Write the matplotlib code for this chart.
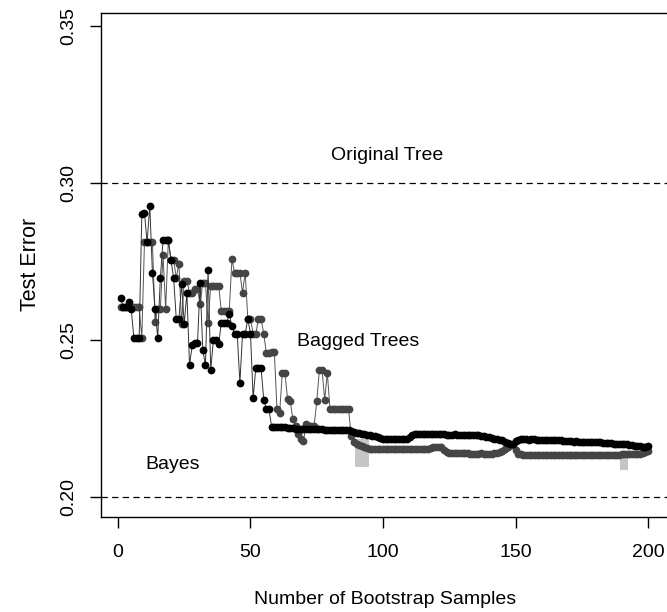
import matplotlib
matplotlib.use("Agg")
import matplotlib.pyplot as plt
import numpy as np

plt.rcParams['font.family'] = ['Liberation Sans', 'DejaVu Sans']

# Test error of bagged trees versus number of bootstrap samples
n_boot = np.arange(1, 201)

# consensus vote
consensus_err = [
    .2635, .2604, .2604, .2620, .2598, .2507, .2507, .2507,
    .2900, .2905, .2811, .2927, .2714, .2600, .2507, .2698,
    .2817, .2817, .2817, .2755, .2698, .2567, .2567, .2677,
    .2551, .2651, .2420, .2483, .2489, .2489, .2682, .2468,
    .2420, .2724, .2405, .2499, .2499, .2488, .2554, .2554,
    .2554, .2583, .2544, .2520, .2520, .2363, .2520, .2520,
    .2567, .2520, .2315, .2410, .2410, .2410, .2310, .2279,
    .2279, .2222, .2222, .2222, .2222, .2222, .2222, .2220,
    .2220, .2220, .2218, .2218, .2218, .2218, .2218, .2216,
    .2216, .2216, .2216, .2216, .2216, .2214, .2214, .2214,
    .2212, .2212, .2212, .2212, .2212, .2212, .2212, .2210,
    .2208, .2205, .2203, .2200, .2200, .2199, .2197, .2195,
    .2193, .2190, .2188, .2186, .2186, .2186, .2186, .2186,
    .2186, .2186, .2186, .2186, .2186, .2190, .2196, .2202,
    .2202, .2200, .2202, .2202, .2200, .2200, .2202, .2202,
    .2200, .2200, .2200, .2198, .2198, .2198, .2200, .2198,
    .2198, .2198, .2196, .2196, .2198, .2196, .2196, .2196,
    .2194, .2194, .2192, .2190, .2188, .2186, .2184, .2182,
    .2180, .2176, .2172, .2168, .2170, .2178, .2182, .2184,
    .2184, .2184, .2182, .2184, .2184, .2182, .2182, .2182,
    .2182, .2180, .2182, .2180, .2180, .2180, .2180, .2178,
    .2178, .2178, .2178, .2176, .2178, .2176, .2176, .2176,
    .2176, .2176, .2174, .2174, .2174, .2174, .2172, .2172,
    .2172, .2172, .2170, .2170, .2170, .2168, .2168, .2168,
    .2166, .2166, .2164, .2164, .2162, .2160, .2158, .2162,
]

# averaged probabilities
prob_err = [
    .2604, .2604, .2604, .2604, .2604, .2604, .2604, .2604,
    .2507, .2811, .2811, .2811, .2811, .2557, .2600, .2600,
    .2770, .2600, .2817, .2755, .2755, .2698, .2743, .2551,
    .2689, .2689, .2651, .2651, .2661, .2661, .2614, .2682,
    .2682, .2554, .2672, .2672, .2672, .2672, .2593, .2593,
    .2593, .2593, .2758, .2714, .2714, .2714, .2651, .2714,
    .2567, .2567, .2520, .2520, .2567, .2567, .2520, .2457,
    .2457, .2462, .2462, .2279, .2268, .2394, .2394, .2311,
    .2305, .2247, .2226, .2200, .2185, .2179, .2232, .2226,
    .2226, .2226, .2305, .2405, .2405, .2310, .2395, .2280,
    .2280, .2280, .2280, .2280, .2280, .2280, .2280, .2195,
    .2175, .2168, .2165, .2162, .2160, .2156, .2153, .2153,
    .2153, .2153, .2153, .2153, .2153, .2152, .2153, .2153,
    .2153, .2152, .2153, .2153, .2152, .2153, .2153, .2152,
    .2152, .2152, .2152, .2152, .2152, .2156, .2160, .2160,
    .2160, .2158, .2150, .2142, .2140, .2140, .2140, .2140,
    .2140, .2140, .2140, .2140, .2138, .2138, .2138, .2138,
    .2140, .2138, .2138, .2138, .2138, .2140, .2140, .2142,
    .2146, .2152, .2160, .2166, .2166, .2150, .2138, .2136,
    .2134, .2134, .2134, .2134, .2134, .2134, .2134, .2134,
    .2134, .2134, .2134, .2134, .2134, .2134, .2134, .2134,
    .2134, .2134, .2134, .2134, .2134, .2134, .2134, .2134,
    .2134, .2134, .2134, .2134, .2134, .2134, .2134, .2134,
    .2134, .2134, .2134, .2134, .2134, .2136, .2136, .2136,
    .2136, .2136, .2136, .2136, .2138, .2140, .2144, .2148,
]

# light grey bands below the probability curve
band_n = [92, 191]
band_lo = [0.2095, 0.2085]
band_hi = [0.2185, 0.2140]
band_w = [5.5, 3.0]

original_tree_err = 0.300
bayes_err = 0.200

x_ticks = [0, 50, 100, 150, 200]
y_ticks = [0.20, 0.25, 0.30, 0.35]

fig = plt.figure(figsize=(6.67, 6.12), dpi=100)
ax = fig.add_axes([101 / 667, 95.5 / 612, 599 / 667, 503.5 / 612])

ax.bar(band_n, np.array(band_hi) - np.array(band_lo), bottom=band_lo,
       width=band_w, color='#c6c6c6', linewidth=0, zorder=1)

ax.plot(n_boot, prob_err, '-', color='#555555', lw=0.7, zorder=2)
ax.plot(n_boot, prob_err, 'o', color='#454545', ms=5.6, mew=0, zorder=3)
ax.plot(n_boot, consensus_err, '-', color='#333333', lw=0.7, zorder=4)
ax.plot(n_boot, consensus_err, 'o', color='black', ms=5.6, mew=0, zorder=5)

ax.axhline(original_tree_err, color='black', lw=0.9, dashes=(5, 3.5), zorder=0)
ax.axhline(bayes_err, color='black', lw=0.9, dashes=(5, 3.5), zorder=0)

ax.text(67.5, 0.2494, 'Bagged Trees', fontsize=14, ha='left', va='center')
ax.text(101.5, 0.3086, 'Original Tree', fontsize=14, ha='center', va='center')
ax.text(10.5, 0.2102, 'Bayes', fontsize=14, ha='left', va='center')

ax.set_xlim(-6.4, 219.6)
ax.set_ylim(0.1938, 0.3541)
ax.set_xticks(x_ticks)
ax.set_xticklabels([str(t) for t in x_ticks])
ax.set_yticks(y_ticks)
ax.set_yticklabels([f'{t:.2f}' for t in y_ticks], rotation=90, va='center')

ax.spines['right'].set_visible(False)
for s in ('left', 'bottom', 'top'):
    ax.spines[s].set_linewidth(1.0)
ax.tick_params(axis='both', direction='out', length=8, width=1.0,
               labelsize=14, pad=9)
ax.tick_params(axis='x', pad=12)

ax.set_xlabel('Number of Bootstrap Samples', fontsize=14)
ax.xaxis.label.set_verticalalignment('center')
ax.xaxis.set_label_coords(284 / 599, -83 / 503.5)
ax.set_ylabel('Test Error', fontsize=15.5, labelpad=14)

fig.savefig('out.png', dpi=100)
